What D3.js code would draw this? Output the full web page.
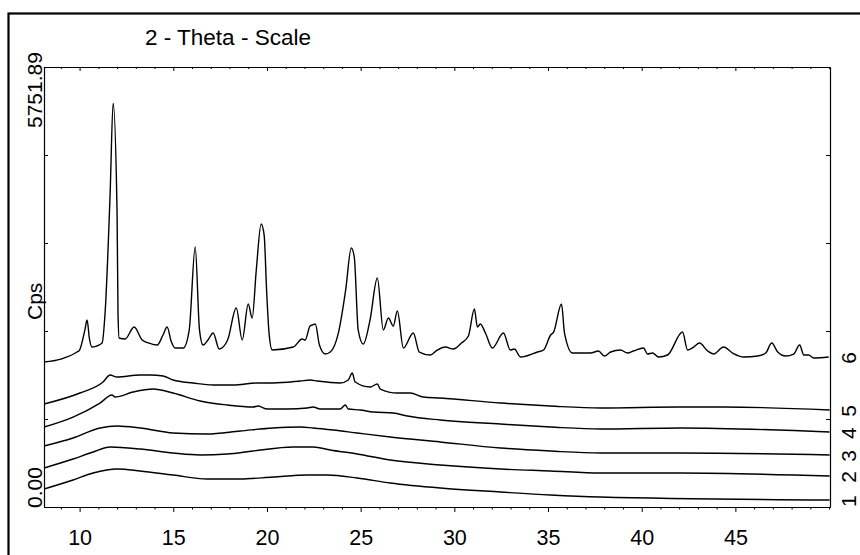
<!DOCTYPE html>
<html>
<head>
<meta charset="utf-8">
<script src="https://cdn.jsdelivr.net/npm/d3@7/dist/d3.min.js"></script>
<style>
  html, body { margin: 0; padding: 0; background: #fff; }
  svg { display: block; }
  text { font-family: "Liberation Sans", Arial, sans-serif; fill: #000; }
</style>
</head>
<body>
<svg id="chart" width="860" height="555"></svg>
<script>
// ---------- data ----------
const titleText = "2 - Theta - Scale";
const yAxisTitle = "Cps";
const yMax = 5751.89;
const yTopLabel = "5751.89";
const yBottomLabel = "0.00";
const xMajorTicks = [10, 15, 20, 25, 30, 35, 40, 45];
const xMinorTicks = [9,10,11,12,13,14,15,16,17,18,19,20,21,22,23,24,25,26,27,28,29,30,31,32,33,34,35,36,37,38,39,40,41,42,43,44,45,46,47,48,49,50];
const seriesLabels = ["1", "2", "3", "4", "5", "6"];

const theta1 = [8.1, 9.65, 10.72, 12.0, 13.23, 14.99, 16.8, 18.57, 20.33, 22.15, 23.22, 24.82, 26.58, 29.25, 32.46, 35.13, 37.8, 50.03];
const cps1   = [235, 353, 444, 497, 471, 418, 366, 366, 392, 418, 418, 379, 314, 248, 196, 157, 131, 91];

const theta2 = [8.1, 9.65, 10.72, 11.63, 13.23, 14.99, 16.43, 17.88, 19.26, 21.4, 22.47, 23.38, 24.82, 26.58, 29.25, 32.46, 35.13, 37.8, 42.07, 50.03];
const cps2   = [510, 627, 719, 784, 758, 706, 680, 693, 732, 784, 784, 745, 693, 614, 549, 497, 471, 444, 444, 405];

const theta3 = [8.1, 9.65, 11.09, 12.0, 13.23, 14.99, 16.8, 18.57, 20.33, 21.78, 22.47, 23.54, 24.82, 26.58, 29.25, 32.46, 35.13, 37.8, 42.07, 50.03];
const cps3   = [797, 902, 1033, 1059, 1033, 967, 954, 993, 1033, 1046, 1033, 1006, 967, 915, 850, 771, 732, 706, 706, 680];

const theta4 = [8.1, 9.65, 11.09, 11.73, 11.89, 12.85, 13.92, 14.99, 16.43, 17.88, 19.26, 19.53, 20.01, 21.08, 22.15, 22.47, 22.84, 23.91, 24.18, 24.34, 24.98, 25.67, 26.74, 27.49, 29.25, 32.46, 35.13, 37.8, 42.07, 50.03];
const cps4   = [1046, 1176, 1359, 1464, 1438, 1503, 1542, 1490, 1385, 1333, 1307, 1320, 1281, 1281, 1294, 1307, 1281, 1281, 1333, 1281, 1268, 1242, 1229, 1189, 1137, 1085, 1046, 1019, 1033, 980];

const theta5 = [8.1, 10.02, 11.25, 11.63, 12.0, 13.23, 13.76, 14.46, 14.99, 16.06, 17.13, 18.2, 19.48, 20.33, 21.78, 22.31, 22.68, 23.91, 24.34, 24.55, 24.71, 25.51, 25.89, 26.05, 26.96, 27.65, 28.35, 29.25, 32.46, 35.13, 37.8, 42.07, 44.37, 50.03];
const cps5   = [1346, 1490, 1634, 1725, 1699, 1725, 1725, 1712, 1660, 1621, 1595, 1595, 1621, 1621, 1647, 1660, 1647, 1621, 1660, 1751, 1634, 1568, 1608, 1542, 1490, 1490, 1438, 1425, 1359, 1320, 1294, 1307, 1307, 1268];

const theta6 = [8.1, 9.0, 9.86, 10.0, 10.28, 10.4, 10.52, 10.66, 10.9, 11.2, 11.36, 11.63, 11.79, 12.0, 12.05, 12.11, 12.43, 12.91, 13.34, 13.7, 14.14, 14.45, 14.67, 14.9, 15.1, 15.53, 15.85, 16.17, 16.4, 16.59, 16.85, 17.13, 17.45, 17.9, 18.36, 18.68, 19.0, 19.21, 19.43, 19.69, 19.85, 19.98, 20.12, 20.28, 21.4, 21.88, 22.04, 22.3, 22.42, 22.58, 22.8, 23.11, 23.38, 23.81, 24.2, 24.5, 24.66, 24.87, 25.14, 25.5, 25.89, 26.21, 26.48, 26.74, 26.96, 27.28, 27.81, 28.13, 28.72, 29.09, 29.52, 29.95, 30.38, 30.75, 31.07, 31.23, 31.39, 31.66, 32.03, 32.62, 32.99, 33.21, 33.53, 34.44, 34.76, 35.14, 35.3, 35.72, 35.88, 36.31, 37.27, 37.69, 38.01, 38.34, 38.87, 39.24, 39.56, 40.1, 40.31, 40.58, 40.9, 41.38, 42.18, 42.45, 42.77, 43.09, 43.52, 43.84, 44.37, 44.85, 45.44, 46.19, 46.62, 46.94, 47.26, 47.68, 48.11, 48.43, 48.65, 48.91, 49.18, 49.98];
const cps6   = [1895, 1934, 2026, 2052, 2313, 2444, 2209, 2091, 2104, 2143, 2536, 4104, 5280, 3843, 2536, 2209, 2196, 2353, 2183, 2143, 2117, 2248, 2353, 2157, 2078, 2078, 2313, 3398, 2313, 2117, 2183, 2274, 2065, 2183, 2601, 2183, 2653, 2470, 3098, 3699, 3555, 2836, 2248, 2052, 2091, 2196, 2183, 2366, 2379, 2392, 2117, 2000, 2026, 2274, 2836, 3385, 3268, 2313, 2130, 2444, 2993, 2313, 2470, 2366, 2562, 2078, 2274, 2026, 1987, 2052, 2091, 2065, 2143, 2235, 2588, 2353, 2392, 2274, 2078, 2274, 2052, 2065, 1961, 2026, 2052, 2248, 2287, 2653, 2274, 2013, 2013, 2039, 1974, 2026, 2052, 2013, 2039, 2078, 2000, 2013, 1961, 1987, 2287, 2052, 2091, 2143, 2039, 2000, 2091, 2013, 1961, 1974, 2013, 2143, 2026, 1974, 2000, 2117, 1987, 1987, 1947, 1961];

const seriesTheta = [theta1, theta2, theta3, theta4, theta5, theta6];
const seriesCps = [cps1, cps2, cps3, cps4, cps5, cps6];

// ---------- drawing ----------
const svg = d3.select("#chart");
const plot = { left: 44, right: 830, top: 67, bottom: 507 };

const x = d3.scaleLinear().domain([8.1, 50.05]).range([plot.left, plot.right]);
const y = d3.scaleLinear().domain([0, yMax]).range([plot.bottom, plot.top]);

// outer frame (only left and top visible)
svg.append("rect")
  .attr("x", 8.5).attr("y", 13.5).attr("width", 900).attr("height", 600)
  .attr("fill", "none").attr("stroke", "#000").attr("stroke-width", 2.2);

// title
svg.append("text")
  .attr("x", 145).attr("y", 45)
  .attr("font-size", 22.5)
  .text(titleText);

// clip
svg.append("defs").append("clipPath").attr("id", "clip")
  .append("rect").attr("x", plot.left).attr("y", plot.top - 2)
  .attr("width", plot.right - plot.left).attr("height", plot.bottom - plot.top + 2);

// axes
function styleAxis(g) {
  g.selectAll("path.domain").attr("stroke", "#000").attr("stroke-width", 1.2);
  g.selectAll(".tick line").attr("stroke", "#000").attr("stroke-width", 1);
}

const minorOnly = xMinorTicks.filter(v => !xMajorTicks.includes(v));

// bottom axis: major with labels
const gBottom = svg.append("g").attr("transform", `translate(0,${plot.bottom})`)
  .call(d3.axisBottom(x).tickValues(xMajorTicks).tickSize(5).tickSizeOuter(0).tickPadding(18).tickFormat(d3.format("d")));
gBottom.selectAll("text").attr("font-size", 21.5).attr("font-family", "Liberation Sans, Arial, sans-serif").attr("fill", "#000");
styleAxis(gBottom);
const gBottomMinor = svg.append("g").attr("transform", `translate(0,${plot.bottom})`)
  .call(d3.axisBottom(x).tickValues(minorOnly).tickSize(2.5).tickSizeOuter(0).tickFormat(""));
styleAxis(gBottomMinor);

// top axis (ticks inward)
const gTop = svg.append("g").attr("transform", `translate(0,${plot.top})`)
  .call(d3.axisTop(x).tickValues(xMajorTicks).tickSize(-4).tickSizeOuter(0).tickFormat(""));
styleAxis(gTop);
const gTopMinor = svg.append("g").attr("transform", `translate(0,${plot.top})`)
  .call(d3.axisTop(x).tickValues(minorOnly).tickSize(-2).tickSizeOuter(0).tickFormat(""));
styleAxis(gTopMinor);

// y axes (ticks inward, no numeric labels)
const yTicks = d3.range(0, 6).map(i => i * yMax / 5);
const gLeft = svg.append("g").attr("transform", `translate(${plot.left},0)`)
  .call(d3.axisLeft(y).tickValues(yTicks).tickSize(-4).tickSizeOuter(0).tickFormat(""));
styleAxis(gLeft);
const gRight = svg.append("g").attr("transform", `translate(${plot.right},0)`)
  .call(d3.axisRight(y).tickValues(yTicks).tickSize(-4).tickSizeOuter(0).tickFormat(""));
styleAxis(gRight);

// y labels (rotated)
function rotLabel(text, yPos, anchor) {
  svg.append("text")
    .attr("transform", `translate(42,${yPos}) rotate(-90)`)
    .attr("text-anchor", anchor)
    .attr("font-size", 21)
    .text(text);
}
rotLabel(yTopLabel, 128, "start");
rotLabel(yBottomLabel, 508, "start");
rotLabel(yAxisTitle, 320, "start");

// curves
const line = d3.line()
  .x(d => x(d[0]))
  .y(d => y(d[1]))
  .curve(d3.curveMonotoneX);

const gLines = svg.append("g").attr("clip-path", "url(#clip)");
seriesTheta.forEach((th, i) => {
  const pts = th.map((t, j) => [t, seriesCps[i][j]]);
  gLines.append("path")
    .datum(pts)
    .attr("d", line)
    .attr("fill", "none")
    .attr("stroke", "#000")
    .attr("stroke-width", 1.4)
    .attr("stroke-linejoin", "round");
});

// series labels on the right (rotated)
seriesLabels.forEach((lab, i) => {
  const c = seriesCps[i];
  const yy = y(c[c.length - 1]);
  svg.append("text")
    .attr("transform", `translate(856,${yy + 1}) rotate(-90)`)
    .attr("text-anchor", "middle")
    .attr("font-size", 21)
    .text(lab);
});
</script>
</body>
</html>
